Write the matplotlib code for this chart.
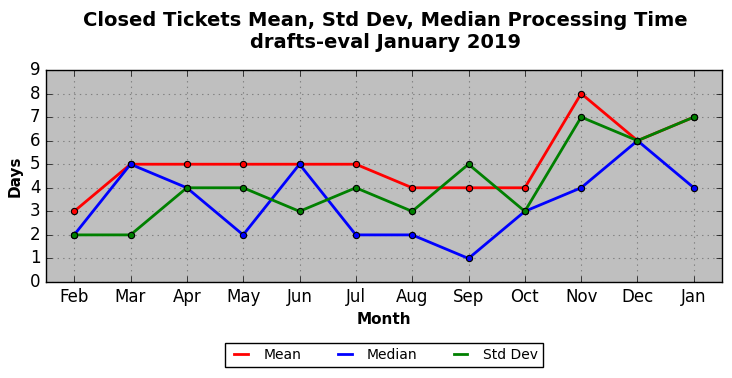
import matplotlib.pyplot as plt
from matplotlib.lines import Line2D

plt.style.use("classic")

months = ["Feb", "Mar", "Apr", "May", "Jun", "Jul", "Aug", "Sep", "Oct", "Nov", "Dec", "Jan"]
mean_days = [3, 5, 5, 5, 5, 5, 4, 4, 4, 8, 6, 7]
median_days = [2, 5, 4, 2, 5, 2, 2, 1, 3, 4, 6, 4]
std_days = [2, 2, 4, 4, 3, 4, 3, 5, 3, 7, 6, 7]

series = [("Mean", mean_days, "red"), ("Median", median_days, "blue"), ("Std Dev", std_days, "green")]

fig = plt.figure(figsize=(7.32, 3.78), dpi=100, facecolor="white")
ax = fig.add_axes([46 / 732, 1 - 282 / 378, 676 / 732, 212 / 378])
ax.set_facecolor("#bfbfbf")

x = list(range(len(months)))
handles = []
for name, values, color in series:
    ax.plot(x, values, color=color, linewidth=2, marker="o", markersize=4.5,
            markerfacecolor=color, markeredgecolor="black", markeredgewidth=0.8)
    handles.append(Line2D([], [], color=color, linewidth=2, label=name))

ax.set_xlim(-0.5, len(months) - 0.5)
ax.set_ylim(0, 9)
ax.set_xticks(x)
ax.set_xticklabels(months, fontsize=12)
ax.set_yticks(range(10))
ax.tick_params(axis="y", labelsize=12)
ax.grid(True, color="#808080", linestyle=":", linewidth=0.8)
ax.set_axisbelow(True)
ax.set_xlabel("Month", fontsize=11, fontweight="bold")
ax.set_ylabel("Days", fontsize=11, fontweight="bold")

fig.suptitle("Closed Tickets Mean, Std Dev, Median Processing Time\ndrafts-eval January 2019",
             fontsize=14, fontweight="bold", x=385 / 732, y=0.972)

fig.legend(handles=handles, loc="center", bbox_to_anchor=(384 / 732, 1 - 355 / 378), ncol=3,
           fontsize=10, frameon=True, fancybox=False, edgecolor="black",
           handlelength=1.6, handletextpad=0.8, columnspacing=2.3, borderpad=0.35)

fig.savefig("out.png", dpi=100, facecolor="white")
